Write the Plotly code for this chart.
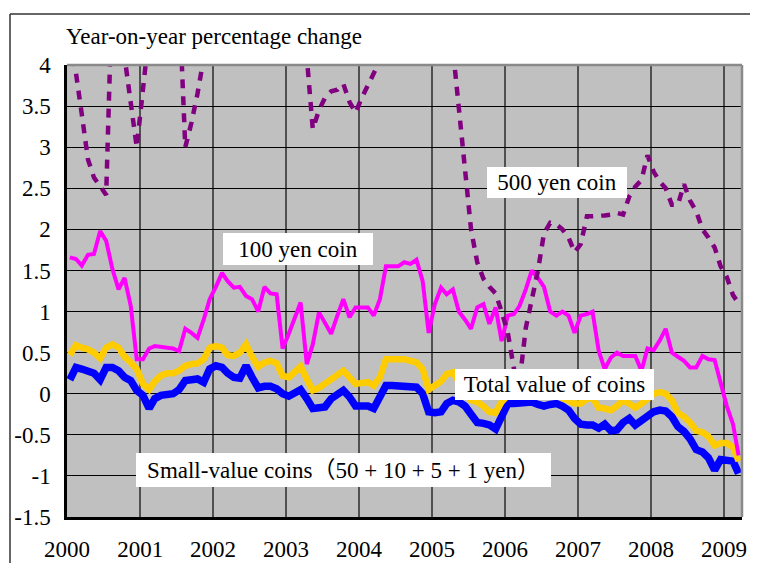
import pandas as pd
import plotly.graph_objects as go

months = pd.date_range("2000-01-01", periods=111, freq="MS") + pd.Timedelta(days=14)

small_value = [
    0.17, 0.32, 0.30, 0.28, 0.25, 0.17, 0.32, 0.32, 0.28, 0.20, 0.16, 0.04,
    -0.02, -0.18, -0.06, -0.02, -0.01, 0.00, 0.05, 0.16, 0.17, 0.18, 0.14, 0.30,
    0.34, 0.32, 0.25, 0.20, 0.19, 0.34, 0.20, 0.07, 0.09, 0.09, 0.06, 0.00,
    -0.03, 0.02, 0.05, -0.06, -0.18, -0.17, -0.16, -0.06, 0.00, 0.04, -0.04, -0.15,
    -0.15, -0.15, -0.18, -0.05, 0.10, 0.10, 0.10, 0.10, 0.08, 0.08, 0.00, -0.22,
    -0.23, -0.22, -0.12, -0.08, -0.10, -0.15, -0.25, -0.35, -0.36, -0.38, -0.43, -0.30,
    -0.12, -0.12, -0.12, -0.12, -0.10, -0.13, -0.15, -0.13, -0.12, -0.15, -0.20, -0.30,
    -0.37, -0.38, -0.38, -0.42, -0.37, -0.45, -0.44, -0.35, -0.30, -0.38, -0.33, -0.28,
    -0.22, -0.20, -0.21, -0.28, -0.40, -0.46, -0.55, -0.68, -0.71, -0.78, -0.93, -0.80,
    -0.80, -0.82, -0.97,
]

total_value = [
    0.47, 0.59, 0.56, 0.54, 0.50, 0.43, 0.56, 0.60, 0.56, 0.45, 0.38, 0.30,
    0.12, 0.05, 0.15, 0.22, 0.25, 0.25, 0.28, 0.34, 0.36, 0.37, 0.42, 0.56,
    0.58, 0.56, 0.47, 0.46, 0.50, 0.60, 0.45, 0.33, 0.38, 0.40, 0.37, 0.22,
    0.20, 0.28, 0.33, 0.18, 0.04, 0.07, 0.12, 0.18, 0.24, 0.28, 0.20, 0.12,
    0.13, 0.14, 0.10, 0.20, 0.42, 0.42, 0.42, 0.42, 0.40, 0.38, 0.30, 0.05,
    0.10, 0.15, 0.24, 0.26, 0.15, 0.05, -0.08, -0.10, -0.15, -0.22, -0.23, -0.10,
    -0.02, 0.00, 0.00, 0.00, 0.02, 0.00, -0.03, -0.02, 0.00, -0.05, -0.08, -0.12,
    -0.12, -0.06, -0.05, -0.17, -0.18, -0.20, -0.15, -0.08, -0.12, -0.17, -0.12, -0.05,
    0.00, 0.02, 0.00, -0.08, -0.23, -0.28, -0.35, -0.45, -0.47, -0.52, -0.63, -0.60,
    -0.60, -0.65, -0.82,
]

yen100 = [
    1.66, 1.64, 1.56, 1.69, 1.70, 1.98, 1.86, 1.52, 1.27, 1.41, 1.07, 0.42,
    0.42, 0.55, 0.58, 0.57, 0.56, 0.55, 0.52, 0.79, 0.74, 0.68, 0.90, 1.15,
    1.30, 1.47, 1.37, 1.29, 1.30, 1.19, 1.15, 1.00, 1.30, 1.22, 1.21, 0.55,
    0.73, 0.92, 1.11, 0.36, 0.60, 0.99, 0.86, 0.73, 0.95, 1.15, 0.93, 1.05,
    1.05, 1.05, 0.95, 1.15, 1.55, 1.55, 1.55, 1.60, 1.58, 1.63, 1.37, 0.74,
    1.09, 1.29, 1.21, 1.27, 1.00, 0.90, 0.79, 1.05, 1.09, 0.85, 1.05, 0.64,
    0.95, 0.97, 1.07, 1.27, 1.50, 1.41, 1.30, 1.00, 0.95, 1.00, 0.95, 0.74,
    0.95, 0.97, 1.00, 0.52, 0.30, 0.44, 0.50, 0.46, 0.46, 0.46, 0.28, 0.55,
    0.53, 0.65, 0.79, 0.50, 0.45, 0.40, 0.32, 0.32, 0.46, 0.42, 0.41, 0.15,
    -0.15, -0.37, -0.75,
]

yen500 = [
    4.30, 3.90, 3.40, 2.85, 2.63, 2.52, 2.42, 5.00, 4.80, 4.10, 3.55, 3.00,
    3.70, 4.40, 4.50, 4.60, 4.60, 4.70, 4.80, 3.00, 3.30, 3.65, 4.05, 4.50,
    4.70, 4.80, 4.90, 5.00, 5.00, 4.90, 4.90, 4.80, 4.80, 4.70, 4.70, 4.60,
    4.60, 4.50, 4.50, 4.10, 3.22, 3.45, 3.60, 3.68, 3.70, 3.77, 3.55, 3.42,
    3.60, 3.75, 3.92, 4.05, 4.20, 4.40, 4.50, 4.60, 4.60, 4.70, 4.70, 4.60,
    4.60, 4.50, 4.40, 4.20, 3.45, 2.65, 2.00, 1.60, 1.40, 1.30, 1.22, 1.00,
    0.74, 0.30, 0.15, 0.80, 1.15, 1.50, 1.95, 2.08, 2.06, 2.00, 1.90, 1.72,
    1.82, 2.16, 2.16, 2.16, 2.17, 2.18, 2.20, 2.18, 2.40, 2.52, 2.60, 2.90,
    2.70, 2.58, 2.50, 2.30, 2.30, 2.55, 2.35, 2.22, 2.00, 1.90, 1.78, 1.55,
    1.42, 1.20, 1.10,
]

year_labels = [str(y) for y in range(2000, 2010)]
year_ticks = [f"{y}-01-01" for y in range(2000, 2010)]
y_ticks = [4, 3.5, 3, 2.5, 2, 1.5, 1, 0.5, 0, -0.5, -1, -1.5]
y_labels = ["4", "3.5", "3", "2.5", "2", "1.5", "1", "0.5", "0", "-0.5", "-1", "-1.5"]

FONT = "'Liberation Serif', 'Noto Sans CJK JP', serif"
FS = 23

fig = go.Figure()
fig.add_trace(go.Scatter(x=months, y=small_value, mode="lines",
                         line=dict(color="#0000FF", width=7.5), name="Small-value coins"))
fig.add_trace(go.Scatter(x=months, y=total_value, mode="lines",
                         line=dict(color="#FFCC00", width=6.5), name="Total value of coins"))
fig.add_trace(go.Scatter(x=months, y=yen100, mode="lines",
                         line=dict(color="#FF00FF", width=4), name="100 yen coin"))
fig.add_trace(go.Scatter(x=months, y=yen500, mode="lines",
                         line=dict(color="#800080", width=4.5, dash="9px,8px"), name="500 yen coin"))

# page offset of the figure (browser body margin)
OFF = 8
W, H = 750, 555
L, R, T, B = 67 - OFF, 16, 65 - OFF, 46
pw, ph = W - L - R, H - T - B


def px(x):
    return (x - OFF - L) / pw


def py(y):
    return (H - B - (y - OFF)) / ph


def box(text, x0, x1, y0, y1):
    return dict(text=text, xref="paper", yref="paper",
                x=px((x0 + x1) / 2), y=py((y0 + y1) / 2),
                xanchor="center", yanchor="middle", showarrow=False,
                bgcolor="white", borderpad=0, borderwidth=0,
                width=x1 - x0, height=y1 - y0, align="center",
                font=dict(family=FONT, size=FS, color="black"))


annotations = [
    dict(text="Year-on-year percentage change", xref="paper", yref="paper",
         x=px(64), y=py(37), xanchor="left", yanchor="middle", showarrow=False,
         font=dict(family=FONT, size=FS, color="black")),
    box("100 yen coin", 223, 373, 233, 265),
    box("500 yen coin", 487, 627, 167, 198),
    box("Total value of coins", 455, 654, 369, 400),
    box("Small-value coins（50 + 10 + 5 + 1 yen）", 136, 551, 453, 487),
]

shapes = [
    dict(type="line", xref="paper", yref="paper", x0=0, x1=1, y0=1, y1=1,
         line=dict(color="#8a8a8a", width=2.5)),
    dict(type="line", xref="paper", yref="paper", x0=1, x1=1, y0=0, y1=1,
         line=dict(color="#8a8a8a", width=2.5)),
    dict(type="line", xref="paper", yref="paper", x0=px(10), x1=px(780), y0=py(14), y1=py(14),
         line=dict(color="#333333", width=1.5)),
    dict(type="line", xref="paper", yref="paper", x0=px(10), x1=px(10), y0=py(14), y1=py(600),
         line=dict(color="#333333", width=1.5)),
]

fig.update_layout(
    template="none",
    width=W, height=H,
    margin=dict(l=L, r=R, t=T, b=B, pad=0, autoexpand=False),
    paper_bgcolor="white", plot_bgcolor="#C0C0C0",
    showlegend=False,
    font=dict(family=FONT, size=FS, color="black"),
    annotations=annotations, shapes=shapes,
    xaxis=dict(type="date", range=["2000-01-01", "2009-04-01"], automargin=False,
               tickvals=year_ticks, ticktext=year_labels,
               showgrid=True, gridcolor="#505050", gridwidth=1.5,
               showline=True, linecolor="black", linewidth=2.5,
               ticks="", zeroline=False, ticklabelstandoff=10,
               tickfont=dict(family=FONT, size=FS, color="black")),
    yaxis=dict(range=[-1.5, 4], tickvals=y_ticks, ticktext=y_labels, automargin=False,
               showgrid=True, gridcolor="black", gridwidth=1,
               showline=True, linecolor="black", linewidth=2.5,
               ticks="", zeroline=False, ticklabelstandoff=9,
               tickfont=dict(family=FONT, size=FS, color="black")),
)

fig.write_html("out.html")
